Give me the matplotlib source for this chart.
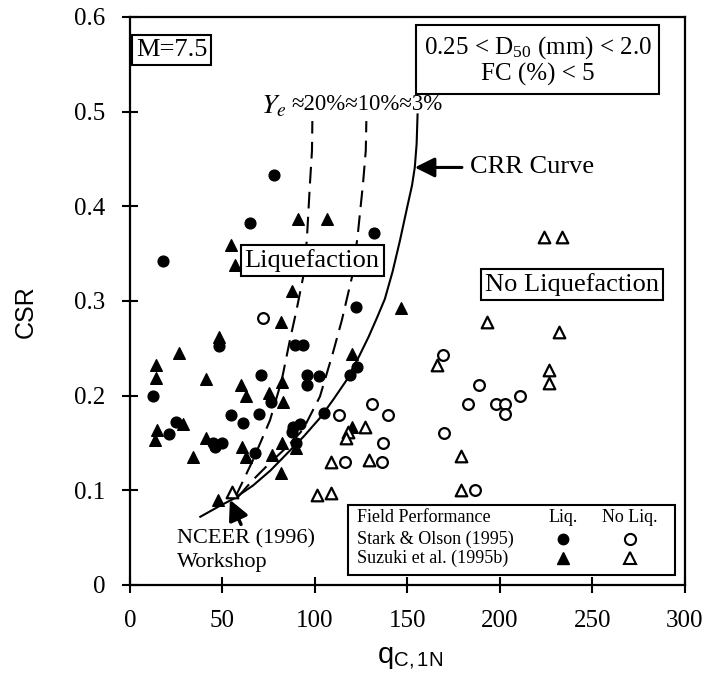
import matplotlib
matplotlib.use("Agg")
import matplotlib.pyplot as plt
from matplotlib.patches import Rectangle

plt.rcParams["font.family"] = ["Liberation Serif", "DejaVu Serif"]
plt.rcParams["mathtext.fontset"] = "stix"

# ---------------------------------------------------------------------------
# Data
# ---------------------------------------------------------------------------

# Stark & Olson (1995), liquefaction (filled circles)
stark_liq_q = [18, 78, 65, 132, 122, 48, 89, 93.5, 12.6, 71, 95.7, 102, 95.7,
               76.5, 122.6, 119, 54.6, 61, 70, 105, 88, 92, 87.5, 21, 25, 45,
               49.7, 46, 67.6, 89.7]
stark_liq_csr = [0.342, 0.433, 0.382, 0.372, 0.294, 0.252, 0.253, 0.253, 0.200,
                 0.222, 0.222, 0.221, 0.211, 0.193, 0.230, 0.222, 0.180, 0.171,
                 0.181, 0.182, 0.167, 0.170, 0.162, 0.159, 0.172, 0.150, 0.150,
                 0.146, 0.139, 0.150]

# Stark & Olson (1995), no liquefaction (open circles)
stark_noliq_q = [72, 113, 131, 139.5, 137, 116, 136, 169, 188.6, 211, 183, 198,
                 202.7, 203, 170, 186.5]
stark_noliq_csr = [0.282, 0.180, 0.191, 0.180, 0.150, 0.130, 0.130, 0.243, 0.211,
                   0.200, 0.191, 0.191, 0.191, 0.181, 0.160, 0.100]

# Suzuki et al. (1995b), liquefaction (filled triangles)
suzuki_liq_q = [91, 106.5, 54.6, 57, 87.5, 81.6, 146.5, 48, 26.5, 14, 14, 41,
                60, 62.7, 82, 75, 82.5, 120, 120, 14.4, 13.5, 28.6, 34, 41, 60.5,
                62.7, 76.7, 82, 90, 81.6, 47.6]
suzuki_liq_csr = [0.387, 0.387, 0.359, 0.338, 0.310, 0.278, 0.293, 0.262, 0.245,
                  0.232, 0.219, 0.218, 0.211, 0.200, 0.214, 0.203, 0.193, 0.244,
                  0.167, 0.164, 0.153, 0.170, 0.135, 0.155, 0.146, 0.135, 0.137,
                  0.150, 0.145, 0.118, 0.090]

# Suzuki et al. (1995b), no liquefaction (open triangles)
suzuki_noliq_q = [55, 118, 117, 127, 108.6, 129, 101, 108.6, 224, 233.5, 193,
                  232, 166, 226.5, 226.5, 179, 179]
suzuki_noliq_csr = [0.098, 0.162, 0.155, 0.167, 0.130, 0.132, 0.095, 0.097, 0.368,
                    0.368, 0.278, 0.267, 0.232, 0.227, 0.213, 0.136, 0.100]

# CRR curve (NCEER 1996 workshop), Ye ~ 3%
crr_q = [38, 49, 56, 66.5, 76, 85, 94, 103, 110, 117, 124, 129, 133.5, 137.8,
         142, 146, 150, 152.5, 154, 155, 155.5]
crr_csr = [0.072, 0.084, 0.091, 0.105, 0.121, 0.139, 0.157, 0.177, 0.196, 0.216,
           0.242, 0.262, 0.282, 0.302, 0.331, 0.364, 0.400, 0.422, 0.441, 0.466,
           0.497]

# Ye ~ 20% boundary
ye20_q = [57, 66.5, 75.7, 82, 86.5, 90, 93.6, 95.6, 97.3, 98.4, 98.6]
ye20_csr = [0.093, 0.132, 0.174, 0.216, 0.259, 0.290, 0.325, 0.364, 0.424, 0.459,
            0.490]

# Ye ~ 10% boundary
ye10_q = [58.4, 66, 75.7, 85, 93.5, 102.7, 109.7, 114.6, 120, 123, 126, 127.5,
          127.8]
ye10_csr = [0.093, 0.110, 0.129, 0.146, 0.164, 0.199, 0.245, 0.280, 0.325, 0.367,
            0.424, 0.459, 0.490]

x_ticks = [0, 50, 100, 150, 200, 250, 300]
y_ticks = [0, 0.1, 0.2, 0.3, 0.4, 0.5, 0.6]
y_tick_labels = ["0", "0.1", "0.2", "0.3", "0.4", "0.5", "0.6"]

# ---------------------------------------------------------------------------
# Figure
# ---------------------------------------------------------------------------

fig = plt.figure(figsize=(7.03, 6.77), dpi=100)
ax = fig.add_axes([0.185, 0.136, 0.789, 0.839])

ax.plot(crr_q, crr_csr, color="black", lw=1.5)
ax.plot(ye20_q, ye20_csr, color="black", lw=1.5, ls=(0, (8, 4)))
ax.plot(ye10_q, ye10_csr, color="black", lw=1.5, ls=(0, (8, 4)))

ax.scatter(stark_liq_q, stark_liq_csr, marker="o", s=60, c="black", zorder=3)
ax.scatter(suzuki_liq_q, suzuki_liq_csr, marker="^", s=70, c="black", zorder=3)
ax.scatter(stark_noliq_q, stark_noliq_csr, marker="o", s=60, facecolors="white",
           edgecolors="black", linewidths=1.6, zorder=3)
ax.scatter(suzuki_noliq_q, suzuki_noliq_csr, marker="^", s=70, facecolors="white",
           edgecolors="black", linewidths=1.6, zorder=3)

ax.set_xlim(0, 300)
ax.set_ylim(0, 0.6)
ax.set_xticks(x_ticks)
ax.set_yticks(y_ticks)
ax.set_yticklabels(y_tick_labels)
ax.tick_params(direction="inout", length=12, width=1.5, labelsize=18, pad=12)
for sp in ax.spines.values():
    sp.set_linewidth(1.6)

box = dict(boxstyle="square,pad=0.15", fc="white", ec="black", lw=1.5)

ax.text(22.5, 0.565, "M=7.5", fontsize=19, ha="center", va="center", bbox=box)
ax.text(220.5, 0.554,
        "0.25 < D$_{\\mathregular{50}}$ (mm) < 2.0\nFC (%) < 5",
        fontsize=18, ha="center", va="center", linespacing=1.1,
        bbox=dict(boxstyle="square,pad=0.3", fc="white", ec="black", lw=1.5))
ax.text(98.5, 0.343, "Liquefaction", fontsize=19, ha="center", va="center",
        bbox=box, zorder=4)
ax.text(239, 0.317, "No Liquefaction", fontsize=19, ha="center", va="center",
        bbox=box, zorder=4)

ax.text(77.8, 0.505, "$Y_e$", fontsize=20, ha="center", va="center")
ax.text(87.5, 0.508, "\u224820%\u224810%\u22483%", fontsize=16.5,
        ha="left", va="center")

ax.annotate("CRR Curve", xy=(154, 0.441), xytext=(184, 0.441), fontsize=19,
            ha="left", va="center",
            arrowprops=dict(arrowstyle="-|>", lw=2.2, color="black",
                            mutation_scale=30, shrinkA=4, shrinkB=0))

ax.annotate("", xy=(54, 0.090), xytext=(60, 0.064),
            arrowprops=dict(arrowstyle="-|>", lw=2.5, color="black",
                            mutation_scale=30, shrinkA=0, shrinkB=0))
ax.text(25.5, 0.049, "NCEER (1996)", fontsize=16, ha="left", va="center")
ax.text(25.5, 0.024, "Workshop", fontsize=16, ha="left", va="center")

# field performance key
ax.add_patch(Rectangle((0.393, 0.018), 0.589, 0.123, transform=ax.transAxes,
                       fc="white", ec="black", lw=1.5, zorder=4))
key_rows = [0.118, 0.081, 0.047]
key_fs = 13
ax.text(0.409, key_rows[0], "Field Performance", transform=ax.transAxes,
        fontsize=key_fs, va="center", zorder=5)
ax.text(0.409, key_rows[1], "Stark & Olson (1995)", transform=ax.transAxes,
        fontsize=key_fs, va="center", zorder=5)
ax.text(0.409, key_rows[2], "Suzuki et al. (1995b)", transform=ax.transAxes,
        fontsize=key_fs, va="center", zorder=5)
ax.text(0.780, key_rows[0], "Liq.", transform=ax.transAxes, fontsize=key_fs,
        ha="center", va="center", zorder=5)
ax.text(0.901, key_rows[0], "No Liq.", transform=ax.transAxes, fontsize=key_fs,
        ha="center", va="center", zorder=5)
ax.plot([0.780], [key_rows[1]], "o", ms=7.5, color="black",
        transform=ax.transAxes, zorder=5)
ax.plot([0.780], [key_rows[2]], "^", ms=8, color="black",
        transform=ax.transAxes, zorder=5)
ax.plot([0.901], [key_rows[1]], "o", ms=8, mfc="white", mec="black", mew=1.5,
        transform=ax.transAxes, zorder=5)
ax.plot([0.901], [key_rows[2]], "^", ms=8.5, mfc="white", mec="black", mew=1.5,
        transform=ax.transAxes, zorder=5)

fig.text(0.036, 0.54, "CSR", fontsize=18, rotation=90, ha="center",
         va="center", family="Liberation Sans")
fig.text(0.583, 0.028, "q$_{\\mathregular{C,1N}}$", fontsize=21, ha="center",
         va="center", family="Liberation Sans")

fig.savefig("out.png", dpi=100)
